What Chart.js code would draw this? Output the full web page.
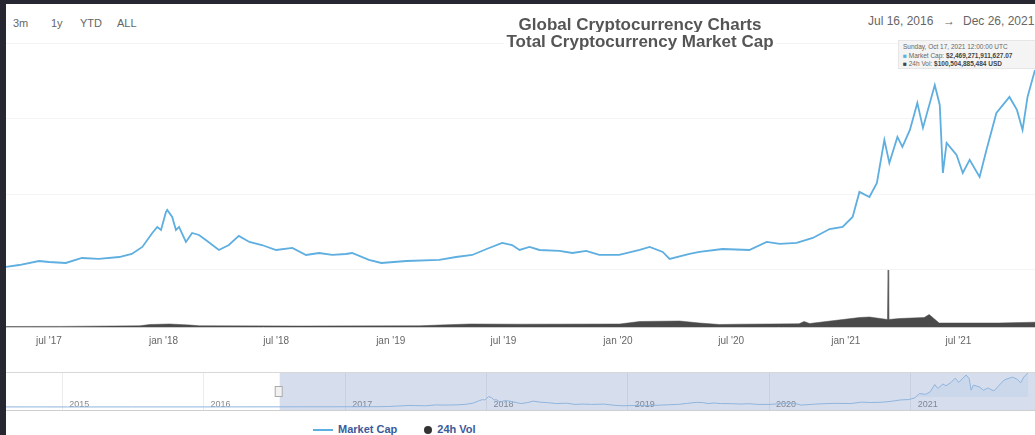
<!DOCTYPE html>
<html><head><meta charset="utf-8">
<script src="https://cdn.jsdelivr.net/npm/chart.js@4/dist/chart.umd.min.js"></script>
<style>
html,body{margin:0;padding:0;width:1035px;height:435px;overflow:hidden;background:#272731;font-family:"Liberation Sans",Arial,sans-serif;}
#panel{position:absolute;left:6px;top:4px;width:1029px;height:431px;background:#fff;}
.abs{position:absolute;white-space:nowrap;}
#btns span{position:absolute;top:17px;font-size:11px;color:#666;}
#title{left:395px;width:490px;top:17px;text-align:center;font-weight:bold;font-size:17px;line-height:16.5px;color:#555;z-index:2;}
#title span{background:#fff;padding:0 2px;}
#range span{position:absolute;top:14px;font-size:12px;color:#666;white-space:nowrap;}
#tip{left:898px;top:40px;width:140px;height:29px;background:#f4f4f4;border:1px solid #e6e6e6;font-size:6.5px;line-height:8.5px;color:#666;padding:2px 0 0 4px;box-sizing:border-box;z-index:2;}
#tip b{font-weight:bold;color:#444;}
#main{position:absolute;left:6px;top:36px;}
#navwrap{position:absolute;left:6px;top:372px;width:1029px;height:37px;border-top:1px solid #d8d8d8;border-bottom:1px solid #cfcfcf;}
#legend{left:313px;top:423px;font-size:11px;color:#3b5a9a;font-weight:bold;}
</style></head>
<body>
<div id="panel"></div>
<div id="btns"><span style="left:13px">3m</span><span style="left:51px">1y</span><span style="left:80px">YTD</span><span style="left:117px">ALL</span></div>
<div id="title" class="abs"><span>Global Cryptocurrency Charts</span><br><span>Total Cryptocurrency Market Cap</span></div>
<div id="range"><span style="left:868px">Jul 16, 2016</span><span style="left:943px">→</span><span style="left:963px">Dec 26, 2021</span></div>
<div id="tip" class="abs">Sunday, Oct 17, 2021 12:00:00 UTC<br><span style="color:#5eaee0">■</span> Market Cap: <b>$2,469,271,911,627.07</b><br><span style="color:#444">■</span> 24h Vol: <b>$100,504,885,484 USD</b></div>
<canvas id="main" width="1029" height="316" style="width:1029px;height:316px"></canvas>
<div id="navwrap"><canvas id="nav" width="1029" height="37" style="width:1029px;height:37px;display:block"></canvas></div>
<div id="legend" class="abs"><span style="display:inline-block;width:20px;height:2px;background:#5eaee0;vertical-align:middle;margin-right:5px"></span>Market Cap<span style="display:inline-block;width:8px;height:8px;border-radius:50%;background:#333;vertical-align:middle;margin:0 5px 0 27px"></span>24h Vol</div>
<script>
// ---- data (USD billions) ----
const capDates = ['2017-04-23','2017-05-14','2017-06-15','2017-07-01','2017-07-28','2017-08-23','2017-09-19','2017-10-22','2017-11-11','2017-11-28','2017-12-14','2017-12-22','2017-12-28','2018-01-05','2018-01-07','2018-01-15','2018-01-21','2018-01-26','2018-02-06','2018-02-16','2018-02-27','2018-03-10','2018-03-31','2018-04-16','2018-05-02','2018-05-19','2018-06-08','2018-07-01','2018-07-27','2018-08-18','2018-09-08','2018-09-29','2018-10-21','2018-10-31','2018-11-27','2018-12-17','2019-01-26','2019-03-20','2019-04-16','2019-05-12','2019-06-04','2019-06-29','2019-07-15','2019-07-27','2019-08-12','2019-08-28','2019-09-29','2019-10-20','2019-11-11','2019-12-02','2020-01-03','2020-02-05','2020-02-21','2020-03-13','2020-03-24','2020-04-25','2020-05-11','2020-06-17','2020-07-30','2020-08-27','2020-09-17','2020-10-14','2020-11-09','2020-12-06','2020-12-27','2021-01-12','2021-01-23','2021-02-08','2021-02-20','2021-03-04','2021-03-12','2021-03-25','2021-04-02','2021-04-14','2021-04-26','2021-05-05','2021-05-24','2021-06-01','2021-06-06','2021-06-12','2021-06-28','2021-07-08','2021-07-19','2021-08-04','2021-08-15','2021-08-31','2021-09-21','2021-10-03','2021-10-12','2021-10-20','2021-11-01'];
const marketCap = [40,66,119,106,93,159,146,172,212,305,490,570,530,769,795,702,530,570,371,490,464,398,265,331,451,371,331,265,292,199,225,199,212,225,133,93,119,133,172,199,278,358,331,265,305,265,252,225,252,199,199,265,305,239,146,212,239,278,265,371,345,358,424,543,570,702,1034,967,1153,1723,1418,1762,1630,1855,2213,1882,2451,2186,1285,1683,1524,1285,1458,1232,1590,2080,2292,2120,1855,2292,2650];
const volDates = ['2017-04-23','2017-07-19','2017-11-24','2017-12-10','2018-01-11','2018-02-12','2018-02-28','2018-08-08','2019-02-17','2019-03-21','2019-05-08','2019-07-27','2020-01-04','2020-02-05','2020-04-09','2020-05-11','2020-06-12','2020-07-14','2020-10-18','2020-10-26','2020-11-04','2021-01-23','2021-02-08','2021-03-09','2021-03-10','2021-03-11','2021-03-28','2021-05-07','2021-05-15','2021-05-31','2021-09-04','2021-11-01'];
const volume = [5,6,12,25,30,20,12,10,12,20,30,28,30,55,60,40,25,28,32,55,35,95,100,75,570,75,85,95,125,40,40,48];
const navEarlyDates = ['2014-08-09','2015-01-15','2015-07-01','2016-01-01','2016-07-01','2017-01-01','2017-04-01'];
const navEarlyCap = [7,5,5,7,11,18,25];
const xTickDates = ['2017-07-01','2018-01-01','2018-07-01','2019-01-01','2019-07-01','2020-01-01','2020-07-01','2021-01-01','2021-07-01'];
const xTickLabels = ["jul '17","jan '18","jul '18","jan '19","jul '19","jan '20","jul '20","jan '21","jul '21"];
const navYears = ['2015-01-01','2016-01-01','2017-01-01','2018-01-01','2019-01-01','2020-01-01','2021-01-01'];
const navYearLabels = ['2015','2016','2017','2018','2019','2020','2021'];
const capGrid = [0,1000,2000,3000];
const mainStart = '2017-04-23', mainEnd = '2021-11-01';
const navStart = '2014-08-09', navEnd = '2021-11-18';
const selStart = '2016-07-16';

const day = s => { const p = s.split('-'); return Date.UTC(+p[0], +p[1]-1, +p[2]) / 864e5; };
const FONT = '"Liberation Sans", Arial, sans-serif';

new Chart(document.getElementById('main'), {
  type: 'line',
  data: { datasets: [
    { label: 'Market Cap', data: capDates.map((d,i)=>({x:day(d), y:marketCap[i]})), yAxisID:'y',
      borderColor:'#5eaee0', borderWidth:1.8, pointRadius:0, tension:0, fill:false, order:0 },
    { label: '24h Vol', data: volDates.map((d,i)=>({x:day(d), y:volume[i]})), yAxisID:'y2',
      borderColor:'#4a4a4a', borderWidth:0.5, backgroundColor:'#4a4a4a', pointRadius:0, tension:0, fill:'origin', order:1 }
  ]},
  options: {
    responsive:false, animation:false,
    layout:{padding:0},
    plugins:{legend:{display:false}, tooltip:{enabled:false}},
    scales:{
      x:{ type:'linear', min:day(mainStart), max:day(mainEnd),
        afterBuildTicks: s => { s.ticks = xTickDates.map(d=>({value:day(d)})); },
        afterFit: s => { s.height = 25; },
        ticks:{ callback:(v,i)=>xTickLabels[i], font:{size:10, family:FONT}, color:'#666', padding:8, autoSkip:false, maxRotation:0 },
        grid:{ display:false, drawTicks:false }, border:{ display:true, color:'#cccccc' } },
      y:{ min:-755, max:3099,
        afterBuildTicks: s => { s.ticks = capGrid.map(v=>({value:v})); },
        ticks:{display:false}, grid:{color:'#f4f4f4', drawTicks:false}, border:{display:false} },
      y2:{ display:false, min:0, max:2910 }
    }
  }
});

const selPlugin = {
  id:'sel',
  beforeDatasetsDraw(chart){
    const {ctx, chartArea:a, scales:{x}} = chart;
    const x0 = x.getPixelForValue(day(selStart));
    ctx.save();
    ctx.fillStyle = 'rgba(102,133,194,0.27)';
    ctx.fillRect(x0, 0, a.right - x0, chart.height);
    ctx.fillStyle = '#f2f2f2'; ctx.strokeStyle = '#aaa'; ctx.lineWidth = 1;
    ctx.fillRect(x0-4.5, 13.5, 7, 10); ctx.strokeRect(x0-4.5, 13.5, 7, 10);
    ctx.restore();
  }
};

new Chart(document.getElementById('nav'), {
  type:'line',
  data:{ datasets:[
    { data: navEarlyDates.map((d,i)=>({x:day(d), y:navEarlyCap[i]})).concat(capDates.map((d,i)=>({x:day(d), y:marketCap[i]}))),
      borderColor:'#8fb4dc', borderWidth:1, backgroundColor:'rgba(143,180,220,0.15)', fill:{value:0}, clip:false, pointRadius:0, tension:0 }
  ]},
  options:{
    responsive:false, animation:false, layout:{padding:0},
    plugins:{legend:{display:false}, tooltip:{enabled:false}},
    scales:{
      x:{ type:'linear', min:day(navStart), max:day(navEnd),
        afterBuildTicks: s => { s.ticks = navYears.map(d=>({value:day(d)})); },
        afterFit: s => { s.height = 13; },
        ticks:{ callback:(v,i)=>navYearLabels[i], font:{size:9, family:FONT}, color:'#888', padding:-11, align:'start', labelOffset:7, autoSkip:false, maxRotation:0 },
        grid:{ color:'#ececec', drawTicks:true, tickLength:13 }, border:{display:false} },
      y:{ display:false, min:766, max:2604 }
    }
  },
  plugins:[selPlugin]
});
</script>
</body></html>
